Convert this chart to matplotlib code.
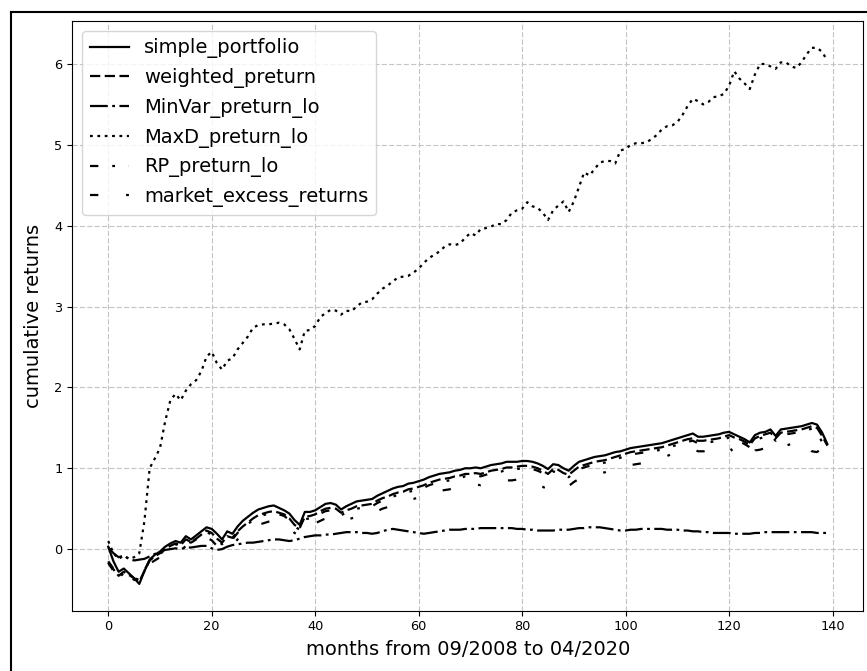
import numpy as np
import matplotlib
matplotlib.use("Agg")
import matplotlib.pyplot as plt
from matplotlib.lines import Line2D

# cumulative returns, one value per month (09/2008 .. 04/2020)
simple_portfolio = [
    0.03, -0.15, -0.28, -0.24, -0.30, -0.36, -0.43, -0.27, -0.13, -0.07,
    -0.03, 0.03, 0.07, 0.10, 0.08, 0.16, 0.12, 0.17, 0.22, 0.27,
    0.25, 0.19, 0.12, 0.22, 0.19, 0.28, 0.35, 0.40, 0.45, 0.49,
    0.51, 0.53, 0.54, 0.51, 0.48, 0.44, 0.36, 0.30, 0.46, 0.46,
    0.48, 0.52, 0.56, 0.57, 0.55, 0.49, 0.53, 0.56, 0.59, 0.60,
    0.61, 0.62, 0.66, 0.69, 0.72, 0.75, 0.77, 0.78, 0.81, 0.82,
    0.84, 0.86, 0.89, 0.91, 0.93, 0.94, 0.95, 0.97, 0.98, 1.00,
    1.00, 1.01, 1.00, 1.02, 1.04, 1.05, 1.06, 1.08, 1.08, 1.08,
    1.09, 1.09, 1.08, 1.06, 1.03, 0.99, 1.05, 1.04, 1.00, 0.97,
    1.03, 1.08, 1.10, 1.12, 1.14, 1.15, 1.16, 1.18, 1.20, 1.21,
    1.23, 1.25, 1.26, 1.27, 1.28, 1.29, 1.30, 1.31, 1.33, 1.35,
    1.37, 1.39, 1.41, 1.43, 1.39, 1.39, 1.40, 1.41, 1.42, 1.44,
    1.45, 1.42, 1.39, 1.36, 1.32, 1.41, 1.44, 1.45, 1.48, 1.40,
    1.48, 1.49, 1.50, 1.51, 1.52, 1.54, 1.56, 1.54, 1.44, 1.30,
]
weighted_preturn = [
    -0.17, -0.25, -0.33, -0.28, -0.32, -0.36, -0.40, -0.27, -0.14, -0.09,
    -0.05, 0.00, 0.04, 0.07, 0.05, 0.12, 0.09, 0.13, 0.18, 0.23,
    0.20, 0.13, 0.08, 0.16, 0.14, 0.22, 0.28, 0.33, 0.38, 0.42,
    0.44, 0.46, 0.47, 0.45, 0.43, 0.38, 0.30, 0.26, 0.40, 0.41,
    0.43, 0.47, 0.50, 0.51, 0.50, 0.45, 0.48, 0.50, 0.53, 0.54,
    0.55, 0.56, 0.60, 0.63, 0.65, 0.68, 0.70, 0.71, 0.74, 0.75,
    0.77, 0.79, 0.82, 0.84, 0.86, 0.87, 0.88, 0.90, 0.91, 0.93,
    0.93, 0.94, 0.93, 0.95, 0.97, 0.98, 0.99, 1.01, 1.01, 1.02,
    1.03, 1.03, 1.02, 1.00, 0.97, 0.93, 0.99, 0.98, 0.94, 0.92,
    0.97, 1.02, 1.04, 1.06, 1.08, 1.09, 1.10, 1.12, 1.14, 1.16,
    1.18, 1.20, 1.21, 1.22, 1.23, 1.24, 1.25, 1.26, 1.28, 1.30,
    1.32, 1.34, 1.36, 1.37, 1.34, 1.34, 1.35, 1.36, 1.37, 1.39,
    1.41, 1.38, 1.36, 1.33, 1.29, 1.37, 1.40, 1.42, 1.44, 1.37,
    1.44, 1.45, 1.46, 1.47, 1.48, 1.50, 1.52, 1.50, 1.40, 1.28,
]
MinVar_preturn_lo = [
    0.02, -0.05, -0.10, -0.08, -0.12, -0.14, -0.13, -0.12, -0.09, -0.06,
    -0.03, -0.01, 0.00, 0.01, 0.00, 0.02, 0.02, 0.03, 0.04, 0.04,
    0.01, -0.01, 0.00, 0.03, 0.05, 0.06, 0.07, 0.08, 0.08, 0.09,
    0.10, 0.11, 0.12, 0.12, 0.11, 0.10, 0.11, 0.13, 0.15, 0.16,
    0.17, 0.17, 0.18, 0.18, 0.19, 0.20, 0.21, 0.21, 0.21, 0.20,
    0.20, 0.19, 0.20, 0.22, 0.24, 0.25, 0.24, 0.23, 0.22, 0.21,
    0.20, 0.19, 0.20, 0.21, 0.22, 0.23, 0.24, 0.24, 0.24, 0.25,
    0.25, 0.25, 0.26, 0.26, 0.26, 0.26, 0.26, 0.26, 0.26, 0.25,
    0.25, 0.24, 0.24, 0.23, 0.23, 0.23, 0.23, 0.24, 0.24, 0.24,
    0.25, 0.26, 0.26, 0.27, 0.27, 0.27, 0.26, 0.25, 0.24, 0.23,
    0.23, 0.24, 0.24, 0.25, 0.25, 0.25, 0.25, 0.25, 0.24, 0.24,
    0.24, 0.23, 0.23, 0.22, 0.22, 0.21, 0.21, 0.20, 0.20, 0.20,
    0.20, 0.19, 0.19, 0.19, 0.19, 0.20, 0.20, 0.21, 0.21, 0.21,
    0.21, 0.21, 0.21, 0.21, 0.21, 0.21, 0.21, 0.20, 0.20, 0.20,
]
MaxD_preturn_lo = [
    0.10, -0.05, -0.12, -0.08, -0.12, -0.10, -0.05, 0.35, 1.00, 1.12,
    1.25, 1.58, 1.84, 1.92, 1.84, 1.96, 2.04, 2.09, 2.20, 2.38,
    2.44, 2.30, 2.22, 2.33, 2.36, 2.47, 2.55, 2.63, 2.74, 2.77,
    2.78, 2.78, 2.79, 2.80, 2.78, 2.72, 2.60, 2.47, 2.70, 2.71,
    2.76, 2.87, 2.92, 2.96, 2.95, 2.90, 2.95, 2.94, 3.00, 3.05,
    3.06, 3.09, 3.16, 3.22, 3.26, 3.31, 3.36, 3.37, 3.38, 3.42,
    3.47, 3.54, 3.60, 3.64, 3.68, 3.74, 3.77, 3.76, 3.78, 3.85,
    3.91, 3.88, 3.96, 3.97, 3.99, 4.02, 4.02, 4.07, 4.16, 4.19,
    4.21, 4.29, 4.24, 4.22, 4.16, 4.07, 4.19, 4.25, 4.30, 4.17,
    4.30, 4.48, 4.66, 4.62, 4.70, 4.78, 4.80, 4.80, 4.77, 4.93,
    4.95, 5.00, 5.02, 5.02, 5.03, 5.07, 5.12, 5.19, 5.23, 5.24,
    5.28, 5.37, 5.48, 5.57, 5.54, 5.50, 5.53, 5.59, 5.60, 5.63,
    5.73, 5.91, 5.82, 5.76, 5.69, 5.87, 6.00, 6.00, 5.97, 5.94,
    6.02, 6.02, 5.97, 5.95, 6.02, 6.12, 6.20, 6.20, 6.15, 6.04,
]
RP_preturn_lo = [
    -0.15, -0.24, -0.35, -0.30, -0.33, -0.36, -0.38, -0.26, -0.14, -0.10,
    -0.06, -0.01, 0.03, 0.06, 0.04, 0.10, 0.08, 0.12, 0.16, 0.21,
    0.18, 0.11, 0.06, 0.14, 0.12, 0.20, 0.26, 0.31, 0.36, 0.40,
    0.42, 0.44, 0.45, 0.43, 0.41, 0.36, 0.28, 0.24, 0.37, 0.38,
    0.40, 0.44, 0.47, 0.48, 0.47, 0.42, 0.45, 0.47, 0.50, 0.51,
    0.52, 0.53, 0.57, 0.60, 0.62, 0.65, 0.67, 0.68, 0.71, 0.72,
    0.74, 0.76, 0.79, 0.81, 0.83, 0.84, 0.85, 0.87, 0.88, 0.90,
    0.90, 0.91, 0.90, 0.92, 0.94, 0.95, 0.96, 0.98, 0.98, 0.99,
    1.00, 1.00, 0.99, 0.97, 0.94, 0.90, 0.96, 0.95, 0.91, 0.89,
    0.94, 0.99, 1.01, 1.03, 1.05, 1.06, 1.07, 1.09, 1.11, 1.13,
    1.15, 1.17, 1.18, 1.19, 1.20, 1.21, 1.22, 1.23, 1.25, 1.27,
    1.29, 1.31, 1.33, 1.34, 1.31, 1.31, 1.32, 1.33, 1.34, 1.36,
    1.38, 1.35, 1.33, 1.30, 1.26, 1.34, 1.37, 1.39, 1.41, 1.34,
    1.41, 1.42, 1.43, 1.44, 1.45, 1.47, 1.49, 1.45, 1.32, 1.22,
]
market_excess_returns = [
    -0.17, -0.27, -0.36, -0.30, -0.33, -0.38, -0.40, -0.30, -0.18, -0.14,
    -0.10, -0.06, -0.02, 0.00, -0.02, 0.04, 0.02, 0.06, 0.10, 0.14,
    0.11, 0.04, -0.01, 0.07, 0.05, 0.12, 0.18, 0.22, 0.27, 0.30,
    0.32, 0.34, 0.35, 0.33, 0.31, 0.27, 0.20, 0.17, 0.29, 0.30,
    0.32, 0.35, 0.38, 0.39, 0.38, 0.34, 0.37, 0.38, 0.40, 0.41,
    0.42, 0.43, 0.47, 0.50, 0.52, 0.55, 0.57, 0.58, 0.61, 0.62,
    0.64, 0.66, 0.69, 0.70, 0.72, 0.73, 0.74, 0.76, 0.77, 0.79,
    0.79, 0.80, 0.79, 0.81, 0.83, 0.84, 0.84, 0.85, 0.85, 0.86,
    0.86, 0.86, 0.83, 0.79, 0.77, 0.74, 0.80, 0.80, 0.79, 0.78,
    0.83, 0.87, 0.89, 0.91, 0.93, 0.94, 0.95, 0.97, 0.99, 1.00,
    1.02, 1.04, 1.05, 1.06, 1.07, 1.08, 1.10, 1.12, 1.15, 1.18,
    1.20, 1.21, 1.23, 1.24, 1.21, 1.21, 1.21, 1.23, 1.24, 1.26,
    1.27, 1.18, 1.14, 1.16, 1.15, 1.22, 1.23, 1.25, 1.27, 1.22,
    1.27, 1.28, 1.30, 1.32, 1.33, 1.34, 1.21, 1.20, 1.25, 1.30,
]

series_names = ["simple_portfolio", "weighted_preturn", "MinVar_preturn_lo",
                "MaxD_preturn_lo", "RP_preturn_lo", "market_excess_returns"]
series_values = [simple_portfolio, weighted_preturn, MinVar_preturn_lo,
                 MaxD_preturn_lo, RP_preturn_lo, market_excess_returns]
# dash patterns in points (not scaled by line width)
styles = ["-", (0, (7.4, 3.2)), (0, (12.8, 3.2, 2, 3.2)), (0, (2, 3.3)),
          (0, (6, 10, 2, 10, 2, 10)), (0, (6, 20, 2, 20))]
plt.rcParams["lines.scale_dashes"] = False

W, H = 867, 671
fig = plt.figure(figsize=(W / 100, H / 100), dpi=100)
ax = fig.add_axes([72.3 / W, 1 - 610.7 / H, (863.3 - 72.3) / W, (610.7 - 21) / H])

for name, vals, ls in zip(series_names, series_values, styles):
    months = np.arange(len(vals))
    ax.plot(months, vals, color="black", lw=1.6, ls=ls, label=name)

ax.grid(True, ls="--", color="#c4c4c4", lw=0.8)
ax.tick_params(labelsize=9.3)
ax.set_xlabel("months from 09/2008 to 04/2020", fontsize=14, labelpad=5)
ax.set_ylabel("cumulative returns", fontsize=14, labelpad=8)
ax.legend(loc="upper left", fontsize=14)

# frame around the figure (cut off at right/bottom in the original image)
fig.add_artist(Line2D([11 / W, 1], [1 - 12 / H] * 2, transform=fig.transFigure, color="black", lw=1.5))
fig.add_artist(Line2D([11 / W] * 2, [0, 1 - 12 / H], transform=fig.transFigure, color="black", lw=1.5))

fig.savefig("out.png", dpi=100)
